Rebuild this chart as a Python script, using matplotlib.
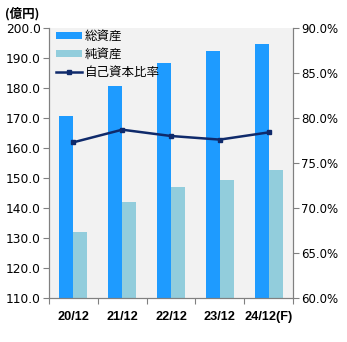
import matplotlib
matplotlib.use("Agg")
import matplotlib.pyplot as plt
import numpy as np

plt.rcParams['font.family'] = ['Noto Sans CJK JP', 'DejaVu Sans']

categories = ["20/12", "21/12", "22/12", "23/12", "24/12(F)"]
total_assets = [170.7, 180.7, 188.3, 192.5, 194.7]
net_assets = [132.0, 142.0, 147.0, 149.3, 152.7]
equity_ratio = [77.3, 78.7, 78.0, 77.6, 78.4]

left_ticks = [110, 120, 130, 140, 150, 160, 170, 180, 190, 200]
right_ticks = [60, 65, 70, 75, 80, 85, 90]

fig = plt.figure(figsize=(3.47, 3.42), dpi=100)
ax = fig.add_axes([49/347, 1-298/342, (293-49)/347, (298-28)/342])
ax.set_facecolor("#f2f2f2")

x = np.arange(len(categories))
w = 0.286
ax.bar(x - w/2, total_assets, width=w, color="#1e9bff", label="総資産", zorder=2)
ax.bar(x + w/2, net_assets, width=w, color="#92cddc", label="純資産", zorder=2)
ax.set_ylim(110, 200)
ax.set_xlim(-0.5, len(categories) - 0.5)
ax.set_yticks(left_ticks)
ax.set_yticklabels([f"{v:.1f}" for v in left_ticks], fontsize=8.8, family=['DejaVu Sans'])
ax.set_xticks(np.arange(len(categories) + 1) - 0.5, minor=False)
ax.set_xticklabels([])
ax.set_xticks(x, minor=True)
ax.set_xticklabels(categories, minor=True, fontsize=9.2, fontweight='bold', family=['Liberation Sans'])
ax.tick_params(axis='x', which='minor', length=0, pad=9.5)
ax.tick_params(axis='x', which='major', length=4, color="#808080")
ax.tick_params(axis='y', length=4, color="#808080", pad=2)

ax2 = ax.twinx()
ax2.plot(x, equity_ratio, color="#0f2a6b", marker='s', markersize=3.5, linewidth=1.8, label="自己資本比率", zorder=3)
ax2.set_ylim(60, 90)
ax2.set_yticks(right_ticks)
ax2.set_yticklabels([f"{v:.1f}%" for v in right_ticks], fontsize=8.5, family=['DejaVu Sans'])
ax2.tick_params(axis='y', length=4, color="#808080", pad=2)

for a in (ax, ax2):
    a.spines['top'].set_visible(False)
    for s in ('left', 'right', 'bottom'):
        a.spines[s].set_color("#808080")

h1, l1 = ax.get_legend_handles_labels()
h2, l2 = ax2.get_legend_handles_labels()
leg = ax2.legend(h1 + h2, l1 + l2, loc='upper left', frameon=False, fontsize=9,
                 handlelength=2.1, handleheight=0.5, borderaxespad=0.0,
                 labelspacing=0.42, handletextpad=0.25, borderpad=0.15,
                 bbox_to_anchor=(0.02, 1.0))

fig.text(5/347, 1-14/342, "(億円)", fontsize=9, fontweight='bold', va='center', ha='left')

fig.savefig("out.png", dpi=100)
